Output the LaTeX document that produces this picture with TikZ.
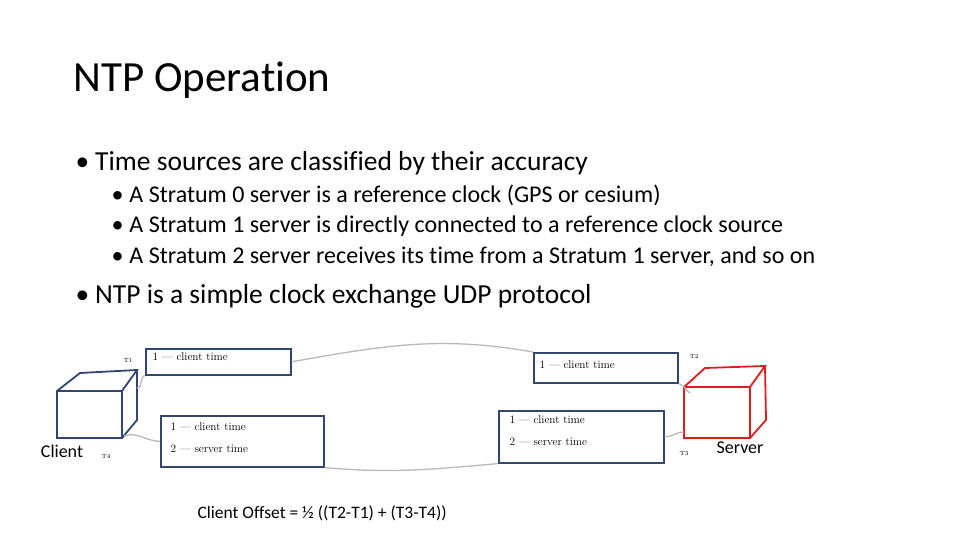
\documentclass[tikz,border=0pt]{standalone}
\usepackage{fontspec}
\setmainfont[Ligatures={NoCommon}]{Carlito}
\usepackage{tikz}
\usetikzlibrary{positioning,calc}
\definecolor{boxblue}{RGB}{50,70,110}
\definecolor{srvred}{RGB}{220,30,30}
\newfontfamily\handfont{Latin Modern Roman}

\begin{document}
\begin{tikzpicture}[x=1pt, y=-1pt,
    msg/.style={draw=boxblue, line width=1.6pt, anchor=north west, inner sep=0pt},
    msgtext/.style={anchor=west, font=\handfont\fontsize{11.3}{13}\selectfont},
    tlabel/.style={font=\handfont\fontsize{6}{7}\selectfont},
    link/.style={draw=gray!55, line width=1.3pt},
    cube/.style={line width=1.8pt},
    bullet/.style={anchor=west, font=\fontsize{27.5}{30}\selectfont},
    subbullet/.style={anchor=west, font=\fontsize{24}{26}\selectfont}
]
    \useasboundingbox (0,0) rectangle (960,540);

    % Title and bullets
    \node[anchor=west, font=\fontsize{43}{46}\selectfont] (title) at (70,80) {NTP Operation};
    \node[bullet] (b1) at (72,163) {\textbullet\hspace{6pt}Time sources are classified by their accuracy};
    \node[subbullet] (s1) at (108,195) {\textbullet\hspace{6pt}A Stratum 0 server is a reference clock (GPS or cesium)};
    \node[subbullet] (s2) at (108,226) {\textbullet\hspace{6pt}A Stratum 1 server is directly connected to a reference clock source};
    \node[subbullet] (s3) at (108,257) {\textbullet\hspace{6pt}A Stratum 2 server receives its time from a Stratum 1 server, and so on};
    \node[bullet] (b2) at (72,296) {\textbullet\hspace{6pt}NTP is a simple clock exchange UDP protocol};

    % Client cube
    \draw[cube, boxblue] (57,391) rectangle (122,438);
    \draw[cube, boxblue] (57,391) -- (80,373) -- (137,370) -- (122,391);
    \draw[cube, boxblue] (137,370) -- (137,420) -- (122,438);
    \coordinate (cl-top) at (137,388);
    \coordinate (cl-bot) at (124,436);
    \node[anchor=north, font=\fontsize{18}{20}\selectfont] (client) at (62,441) {Client};

    % Server cube
    \draw[cube, srvred] (684,387) rectangle (750,438);
    \draw[cube, srvred] (684,387) -- (705,368) -- (765,366) -- (750,387);
    \draw[cube, srvred] (765,366) -- (766,420) -- (750,438);
    \coordinate (sv-top) at (690,393);
    \coordinate (sv-bot) at (684,432);
    \node[anchor=north, font=\fontsize{18}{20}\selectfont] (server) at (740,438) {Server};

    % Time stamps
    \node[tlabel] (t1) at (128,360) {T1};
    \node[tlabel] (t2) at (694,356) {T2};
    \node[tlabel] (t3) at (684,454) {T3};
    \node[tlabel] (t4) at (106,456) {T4};

    % Messages
    \node[msg, minimum width=145pt, minimum height=26pt] (req1) at (145,348) {};
    \node[msgtext] at ($(req1.west)+(4,-5)$) {1 — client time};
    \node[msg, minimum width=144pt, minimum height=30pt] (req2) at (533,352) {};
    \node[msgtext] at ($(req2.west)+(3,-3)$) {1 — client time};
    \node[msg, minimum width=165pt, minimum height=52pt] (rsp1) at (498,410) {};
    \node[msgtext] at ($(rsp1.north west)+(8,10)$) {1 — client time};
    \node[msgtext] at ($(rsp1.north west)+(8,32)$) {2 — server time};
    \node[msg, minimum width=163pt, minimum height=51pt] (rsp2) at (160,415) {};
    \node[msgtext] at ($(rsp2.north west)+(7,12)$) {1 — client time};
    \node[msgtext] at ($(rsp2.north west)+(7,34)$) {2 — server time};

    % Exchange path
    \draw[link] (cl-top) to[out=-10, in=190] (req1.south west);
    \draw[link] (req1.east) to[out=10, in=170] (req2.north west);
    \draw[link] (req2.south east) to[out=-10, in=150] (sv-top);
    \draw[link] (sv-bot) to[out=180, in=0] (rsp1.east);
    \draw[link] (rsp1.south west) to[out=185, in=-5] (rsp2.south east);
    \draw[link] (rsp2.west) to[out=180, in=20] (cl-bot);

    \node[anchor=west, font=\fontsize{17.5}{20}\selectfont] (offset) at (194,513) {Client Offset = ½ ((T2-T1) + (T3-T4))};
\end{tikzpicture}
\end{document}
